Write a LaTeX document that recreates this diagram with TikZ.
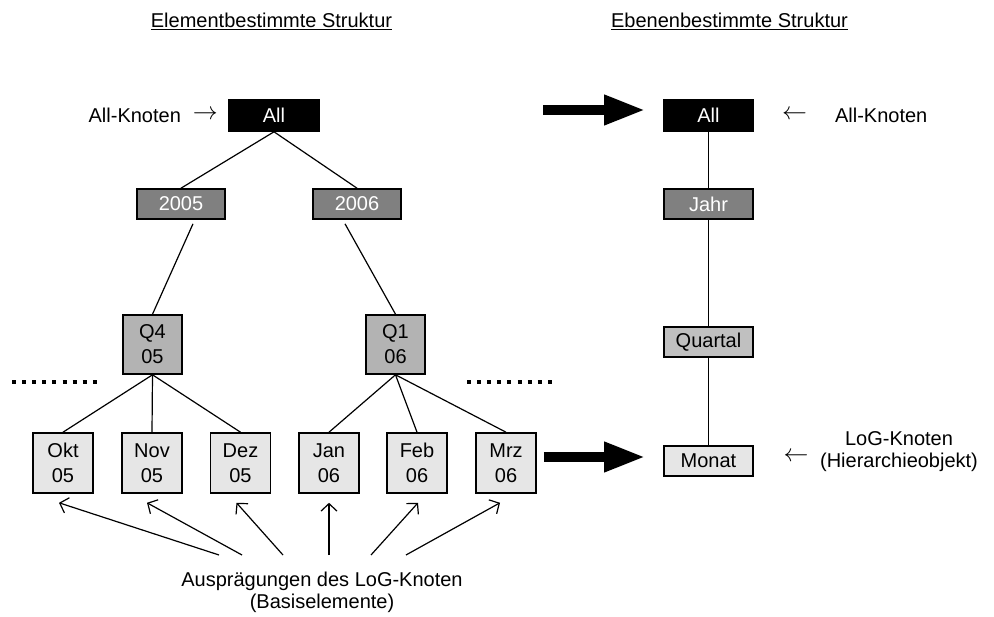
\documentclass[tikz,border=0pt]{standalone}
\usepackage{fontspec}
\setmainfont{Liberation Sans}
\usetikzlibrary{arrows.meta}
\definecolor{darkfill}{HTML}{808080}
\definecolor{midfill}{HTML}{B3B3B3}
\definecolor{quartfill}{HTML}{C0C0C0}
\definecolor{lightfill}{HTML}{E6E6E6}
\newcommand{\bigrightarrow}{\raisebox{2.5pt}{\fontsize{24}{24}\selectfont$\rightarrow$}}
\newcommand{\bigleftarrow}{\raisebox{2.5pt}{\fontsize{28}{28}\selectfont$\leftarrow$}}
\begin{document}
\begin{tikzpicture}[x=1pt,y=-1pt,
  every node/.style={font=\fontsize{20}{25}\selectfont, inner sep=0pt},
  box/.style={draw=black, line width=1.6pt, align=center},
  allbox/.style={box, fill=black, text=white, minimum width=90pt, minimum height=31pt},
  yearbox/.style={box, fill=darkfill, text=white, minimum width=88pt, minimum height=30pt},
  qbox/.style={box, fill=midfill, minimum width=59pt, minimum height=59pt},
  leafbox/.style={box, fill=lightfill, minimum width=60pt, minimum height=60pt},
  levelbox/.style={box, minimum width=89pt, minimum height=30pt},
  edge/.style={draw=black, line width=1.2pt},
  dotrow/.style={draw=black, line width=4pt, dash pattern=on 4pt off 6.1pt},
  bigarrow/.style={draw=black, line width=9.5pt, -{Triangle[length=41pt,width=28pt]}},
  pointer/.style={draw=black, line width=1.2pt, -{Straight Barb[length=7.5pt,width=16pt]}}
]
\useasboundingbox (0,0) rectangle (994,617);

% headings
\node (titleL) at (271.5,21) {\underline{Elementbestimmte Struktur}};
\node (titleR) at (729.5,21) {\underline{Ebenenbestimmte Struktur}};

% element-based hierarchy
\node[allbox] (all) at (274,115.5) {All};
\node[yearbox] (y2005) at (181,204) {2005};
\node[yearbox] (y2006) at (357,204) {2006};
\node[qbox] (q4) at (152.5,344.5) {Q4\\05};
\node[qbox] (q1) at (395.5,344.5) {Q1\\06};
\node[leafbox] (okt) at (63,463) {Okt\\05};
\node[leafbox] (nov) at (152,463) {Nov\\05};
\node[leafbox] (dez) at (240.5,463) {Dez\\05};
\node[leafbox] (jan) at (329,463) {Jan\\06};
\node[leafbox] (feb) at (417,463) {Feb\\06};
\node[leafbox] (mrz) at (506,463) {Mrz\\06};

\draw[edge] (all.south) -- (y2005.north);
\draw[edge] (all.south) -- (y2006.north);
\draw[edge] ([xshift=12pt,yshift=-4pt]y2005.south) -- (q4.north);
\draw[edge] ([xshift=-12pt,yshift=-4pt]y2006.south) -- (q1.north);
\foreach \leaf in {okt,nov,dez} \draw[edge] (q4.south) -- (\leaf.north);
\foreach \leaf in {jan,feb,mrz} \draw[edge] (q1.south) -- (\leaf.north);

% omitted siblings
\coordinate (dotsLa) at (12,382);
\coordinate (dotsLb) at (98,382);
\coordinate (dotsRa) at (467,382);
\coordinate (dotsRb) at (553,382);
\draw[dotrow] (dotsLa) -- (dotsLb);
\draw[dotrow] (dotsRa) -- (dotsRb);

\node[anchor=east] (lblAllL) at (218,115) {All-Knoten\hspace{12pt}\bigrightarrow};

% instances of the level-of-granularity node
\node[align=center] (basis) at (322,592) {Ausprägungen des LoG-Knoten\\[-3pt](Basiselemente)};
\coordinate (t1) at (219,555);
\coordinate (t2) at (242,555);
\coordinate (t3) at (283,555);
\coordinate (t4) at (329,555);
\coordinate (t5) at (371,555);
\coordinate (t6) at (406,555);
\draw[pointer] (t1) -- ([xshift=-4pt,yshift=-9pt]okt.south);
\draw[pointer] (t2) -- ([xshift=-5pt,yshift=-9pt]nov.south);
\draw[pointer] (t3) -- ([xshift=-4pt,yshift=-9pt]dez.south);
\draw[pointer] (t4) -- ([yshift=-9pt]jan.south);
\draw[pointer] (t5) -- ([xshift=1pt,yshift=-9pt]feb.south);
\draw[pointer] (t6) -- ([xshift=-6pt,yshift=-9pt]mrz.south);

% level-based hierarchy
\node[levelbox, fill=black, text=white, minimum height=31pt] (rall) at (708.5,115.5) {All};
\node[levelbox, fill=darkfill, text=white] (jahr) at (708.5,204) {Jahr};
\node[levelbox, fill=quartfill] (quartal) at (708.5,342) {Quartal};
\node[levelbox, fill=lightfill] (monat) at (708.5,461) {Monat};
\draw[edge] (rall.south) -- (jahr.north);
\draw[edge] (jahr.south) -- (quartal.north);
\draw[edge] (quartal.south) -- (monat.north);

% transitions between the two structures
\coordinate (topstart) at (543,110);
\draw[bigarrow] (topstart) -- ([xshift=-18pt,yshift=5.5pt]rall.west);
\draw[bigarrow] ([xshift=7pt,yshift=6pt]mrz.east) -- ([xshift=-18pt,yshift=4pt]monat.west);

\node[anchor=west] (lblAllR) at (782,115) {\bigleftarrow\hspace{28pt}All-Knoten};
\node (lblLoGArrow) at (796,458) {\bigleftarrow};
\node[align=center] (lblLoG) at (899,452) {LoG-Knoten\\[-3pt](Hierarchieobjekt)};
\end{tikzpicture}
\end{document}
